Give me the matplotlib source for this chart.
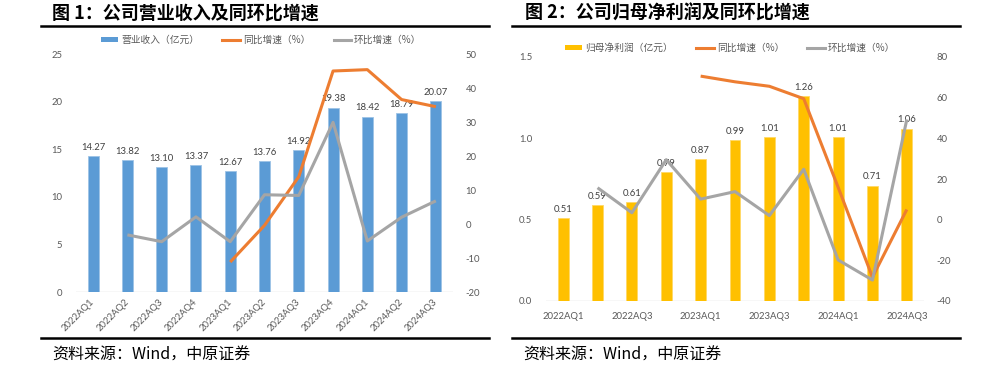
import numpy as np
import matplotlib
matplotlib.use('Agg')
import matplotlib.pyplot as plt
from matplotlib.lines import Line2D
from matplotlib.patches import Patch

plt.rcParams['font.family'] = ['Noto Sans CJK SC', 'DejaVu Sans']

quarters = ['2022AQ1', '2022AQ2', '2022AQ3', '2022AQ4', '2023AQ1', '2023AQ2',
            '2023AQ3', '2023AQ4', '2024AQ1', '2024AQ2', '2024AQ3']
revenue = [14.27, 13.82, 13.10, 13.37, 12.67, 13.76, 14.92, 19.38, 18.42, 18.79, 20.07]
rev_yoy = [np.nan, np.nan, np.nan, np.nan, -11.2, -0.4, 13.9, 45.0, 45.4, 36.6, 34.5]
rev_qoq = [np.nan, -3.2, -5.2, 2.1, -5.2, 8.6, 8.4, 29.9, -5.0, 2.0, 6.8]
profit = [0.51, 0.59, 0.61, 0.79, 0.87, 0.99, 1.01, 1.26, 1.01, 0.71, 1.06]
profit_yoy = [np.nan, np.nan, np.nan, np.nan, 70.6, 67.8, 65.6, 59.5, 16.0, -28.3, 5.0]
profit_qoq = [np.nan, 15.7, 3.4, 29.5, 10.1, 13.8, 2.0, 24.8, -19.8, -29.7, 49.3]

BLUE = '#5B9BD5'
ORANGE = '#ED7D31'
GREY = '#A5A5A5'
YELLOW = '#FFC000'
TICK_C = '#595959'
LABEL_C = '#404040'
NUM_FONT = ['Lato', 'DejaVu Sans']

W, H = 1008, 368
fig = plt.figure(figsize=(W / 100, H / 100), dpi=100)
fig.patch.set_facecolor('white')


def fx(px):
    return px / W


def fy(py):
    return 1 - py / H


def style_axes(ax, axb):
    for a in (ax, axb):
        for s in a.spines.values():
            s.set_visible(False)
        a.tick_params(length=0, colors=TICK_C)
    ax.axhline(0, color='#D9D9D9', lw=1.0, zorder=1)


def panel(left, right, top, bottom, values, yoy, qoq, bar_color, bar_edge,
          ylim, yticks, yfmt, y2lim, y2ticks, lfmt, legend_label, rotated):
    ax = fig.add_axes([fx(left), fy(bottom), fx(right - left), (bottom - top) / H])
    x = np.arange(len(quarters))
    ax.bar(x, values, width=0.32, color=bar_color, edgecolor=bar_edge, linewidth=0.6, zorder=2)
    ax.set_xlim(-0.5, len(quarters) - 0.5)
    ax.set_ylim(*ylim)
    ax.set_yticks(yticks)
    ax.set_yticklabels([yfmt.format(v) for v in yticks], fontsize=6.8, family=NUM_FONT)
    for xi, v in zip(x, values):
        ax.annotate(lfmt.format(v), (xi, v), xytext=(0, 3), textcoords='offset points',
                    ha='center', va='bottom', fontsize=6.8, color=LABEL_C, family=NUM_FONT,
                    zorder=3)
    axb = ax.twinx()
    axb.plot(x, yoy, color=ORANGE, lw=2.2, solid_capstyle='butt', zorder=4)
    axb.plot(x, qoq, color=GREY, lw=2.2, solid_capstyle='butt', zorder=4)
    axb.set_ylim(*y2lim)
    axb.set_yticks(y2ticks)
    axb.set_yticklabels([str(v) for v in y2ticks], fontsize=6.8, family=NUM_FONT)
    style_axes(ax, axb)
    ax.tick_params(axis='y', pad=10)
    axb.tick_params(axis='y', pad=9)
    if rotated:
        ax.set_xticks(x)
        ax.set_xticklabels(quarters, rotation=45, ha='right', va='center',
                           rotation_mode='anchor', fontsize=6.8, family=NUM_FONT)
        ax.tick_params(axis='x', pad=6)
    else:
        ax.set_xticks(x[::2])
        ax.set_xticklabels(quarters[::2], fontsize=6.8, family=NUM_FONT)
        ax.tick_params(axis='x', pad=8)
    handles = [Patch(facecolor=bar_color, edgecolor='none'),
               Line2D([0], [0], color=ORANGE, lw=2.2),
               Line2D([0], [0], color=GREY, lw=2.2)]
    labels = [legend_label, '同比增速（%）', '环比增速（%）']
    return ax, axb, handles, labels


# Left panel
ax1, ax1b, h1, l1 = panel(76, 453, 54, 292, revenue, rev_yoy, rev_qoq, BLUE, '#9DC3E6',
                          (0, 25), [0, 5, 10, 15, 20, 25], '{:.0f}',
                          (-20, 50), [-20, -10, 0, 10, 20, 30, 40, 50], '{:.2f}',
                          '营业收入（亿元）', True)
leg1 = fig.legend(h1, l1, loc='center', bbox_to_anchor=(fx(261), fy(40)), ncol=3,
                  frameon=False, fontsize=7, handlelength=1.8, handleheight=0.5,
                  handletextpad=0.3, columnspacing=2.4, labelcolor=TICK_C)

# Right panel
ax2, ax2b, h2, l2 = panel(546, 924, 57, 301, profit, profit_yoy, profit_qoq, YELLOW, '#FFD966',
                          (0, 1.5), [0.0, 0.5, 1.0, 1.5], '{:.1f}',
                          (-40, 80), [-40, -20, 0, 20, 40, 60, 80], '{:.2f}',
                          '归母净利润（亿元）', False)
leg2 = fig.legend(h2, l2, loc='center', bbox_to_anchor=(fx(730), fy(48)), ncol=3,
                  frameon=False, fontsize=7, handlelength=1.8, handleheight=0.5,
                  handletextpad=0.3, columnspacing=2.4, labelcolor=TICK_C)

# Titles, rules and footers
fig.text(fx(52), fy(13), '图 1：公司营业收入及同环比增速', fontsize=13, fontweight='bold',
         va='center', ha='left', color='black')
fig.text(fx(525), fy(13), '图 2：公司归母净利润及同环比增速', fontsize=13, fontweight='bold',
         va='center', ha='left', color='black')
for x0, x1 in ((41, 489), (512, 960)):
    fig.add_artist(Line2D([fx(x0), fx(x1)], [fy(26), fy(26)], color='black', lw=1.8,
                          transform=fig.transFigure))
    fig.add_artist(Line2D([fx(x0), fx(x1)], [fy(338), fy(338)], color='black', lw=1.8,
                          transform=fig.transFigure))
fig.text(fx(52), fy(355), '资料来源：Wind，中原证券', fontsize=11.5, va='center', ha='left',
         color='black')
fig.text(fx(523), fy(355), '资料来源：Wind，中原证券', fontsize=11.5, va='center', ha='left',
         color='black')

fig.savefig('out.png', dpi=100, facecolor='white')
